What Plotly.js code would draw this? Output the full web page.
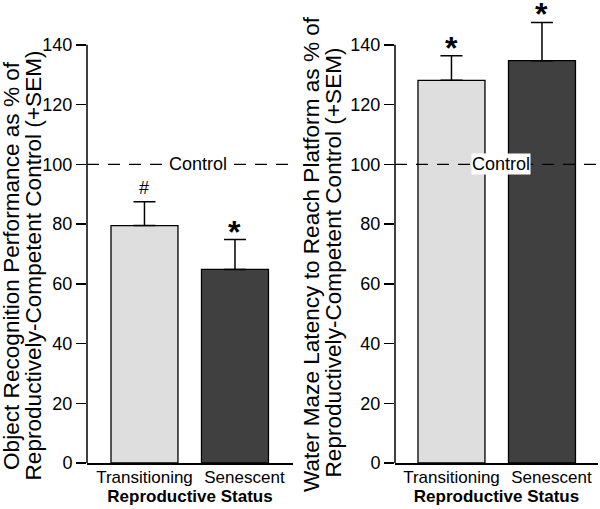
<!DOCTYPE html>
<html>
<head>
<meta charset="utf-8">
<script src="https://cdn.plot.ly/plotly-3.0.1.min.js"></script>
<style>html,body{margin:0;padding:0;background:#fff;}#chart{width:600px;height:509px;}</style>
</head>
<body>
<div id="chart"></div>
<script>
// ---- data ----
var categories = ['Transitioning', 'Senescent'];
var categoryLabels = ['Transitioning', '\u00a0\u00a0\u00a0\u00a0Senescent'];
var objRecMean = [79.5, 64.8];
var objRecSem = [8, 10];
var waterMazeMean = [128.1, 134.7];
var waterMazeSem = [8.2, 12.8];
var objRecSig = ['#', '*'];
var waterMazeSig = ['*', '*'];
var controlLevel = 100;
var axisTop = 140;
var yTickVals = [0, 20, 40, 60, 80, 100, 120, 140];
var leftTitleLines = ['Object Recognition Performance as % of', 'Reproductively-Competent Control (+SEM)'];
var rightTitleLines = ['Water Maze Latency to Reach Platform as % of', 'Reproductively-Competent Control (+SEM)'];
var xTitle = 'Reproductive Status';
var controlLabel = 'Control';

// ---- style ----
var FONT = 'Liberation Sans, Arial, Helvetica, sans-serif';
var W = 600, H = 509, B = 46, PH = H - B;
function px(x) { return x / W; }
function py(y) { return (PH - y) / PH; }
var barColors = ['#dedede', '#404040'];

function barTrace(means, sems, xa, ya) {
  return {
    type: 'bar', x: categories, y: means, xaxis: xa, yaxis: ya,
    width: 0.74,
    marker: { color: barColors, line: { color: '#000', width: 1.3 } },
    error_y: { type: 'data', array: sems, arrayminus: sems.map(function(){return 0;}), symmetric: false,
               visible: true, color: '#000', thickness: 1.5, width: 11 },
    hoverinfo: 'none', showlegend: false
  };
}

var data = [
  barTrace(objRecMean, objRecSem, 'x', 'y'),
  barTrace(waterMazeMean, waterMazeSem, 'x2', 'y2')
];

function xax(domain, range, anchor) {
  return {
    domain: domain, range: range, anchor: anchor, type: 'category',
    tickmode: 'array', tickvals: categories, ticktext: categoryLabels, tickangle: 0,
    showline: true, linecolor: '#000', linewidth: 1.5, ticks: '', showgrid: false, zeroline: false,
    tickfont: { family: FONT, size: 17, color: '#000' }, ticklabelstandoff: -2,
    title: { text: '<b>' + xTitle + '</b>', font: { family: FONT, size: 17, color: '#000' }, standoff: 2 },
    fixedrange: true
  };
}
function yax(anchor) {
  return {
    domain: [0, 1], range: [0, 155], anchor: anchor,
    tickmode: 'array', tickvals: yTickVals, ticktext: yTickVals.map(String),
    ticks: 'outside', ticklen: 10, tickwidth: 1.5, tickcolor: '#000',
    showline: false, showgrid: false, zeroline: false,
    tickfont: { family: FONT, size: 18, color: '#000' },
    fixedrange: true
  };
}

var shapes = [];
[['x', 'y'], ['x2', 'y2']].forEach(function(p) {
  shapes.push({ type: 'line', xref: p[0] + ' domain', yref: p[1], x0: 0, x1: 0, y0: 0, y1: axisTop,
                line: { color: '#000', width: 1.5 } });
  shapes.push({ type: 'line', xref: p[0] + ' domain', yref: p[1], x0: 0, x1: 1, y0: controlLevel, y1: controlLevel,
                line: { color: '#000', width: 1.3, dash: '12px,9px' }, layer: 'above' });
});

var annotations = [];
function titleAnn(text, cx, cy) {
  annotations.push({ text: text, xref: 'paper', yref: 'paper', x: px(cx), y: py(cy), textangle: -90,
    showarrow: false, xanchor: 'center', yanchor: 'middle',
    font: { family: FONT, size: 22.6, color: '#000' } });
}
titleAnn(leftTitleLines[0], 11, 266);
titleAnn(leftTitleLines[1], 33, 265.5);
titleAnn(rightTitleLines[0], 311, 254);
titleAnn(rightTitleLines[1], 333, 262.5);

function ctrlAnn(cx, ya) {
  annotations.push({ text: controlLabel, xref: 'paper', yref: ya, x: px(cx), y: controlLevel,
    showarrow: false, xanchor: 'center', yanchor: 'middle', bgcolor: '#fff', borderpad: 0,
    font: { family: FONT, size: 18, color: '#000' } });
}
ctrlAnn(198, 'y');
ctrlAnn(501, 'y2');

function sigAnn(xa, ya, means, sems, sig) {
  categories.forEach(function(c, i) {
    var isStar = sig[i] === '*';
    annotations.push({ text: isStar ? '<b>*</b>' : sig[i], xref: xa, yref: ya, x: c, y: means[i] + sems[i],
      showarrow: false, xanchor: 'center', yanchor: 'bottom', yshift: isStar ? -12 : 2,
      font: { family: FONT, size: isStar ? 32 : 18, color: '#000' } });
  });
}
sigAnn('x', 'y', objRecMean, objRecSem, objRecSig);
sigAnn('x2', 'y2', waterMazeMean, waterMazeSem, waterMazeSig);

var layout = {
  width: W, height: H,
  margin: { l: 0, r: 0, t: 0, b: B, pad: 0 },
  paper_bgcolor: '#fff', plot_bgcolor: '#fff',
  showlegend: false, bargap: 0,
  font: { family: FONT, color: '#000' },
  xaxis: xax([px(87), px(293)], [-0.635, 1.641], 'y'),
  yaxis: yax('x'),
  xaxis2: xax([px(395), px(598)], [-0.624, 1.619], 'y2'),
  yaxis2: yax('x2'),
  shapes: shapes,
  annotations: annotations
};

Plotly.newPlot('chart', data, layout, { displayModeBar: false, staticPlot: true });
</script>
</body>
</html>
